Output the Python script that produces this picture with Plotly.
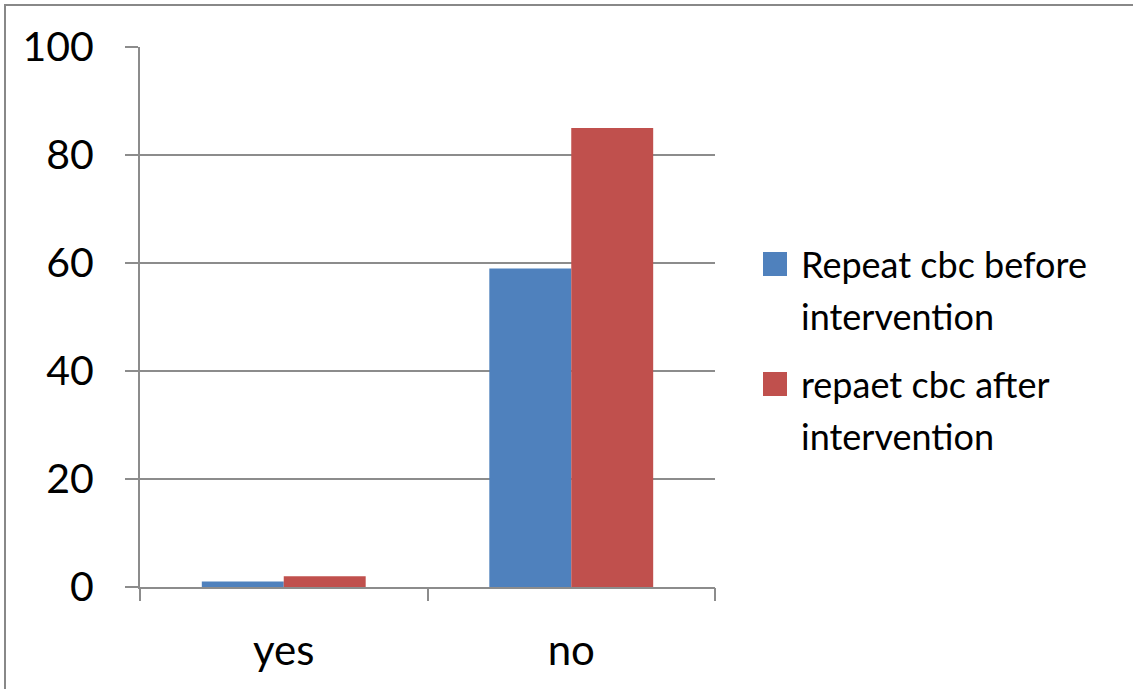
import plotly.graph_objects as go

categories = ["yes", "no"]
series_names = ["Repeat cbc before intervention", "repaet cbc after intervention"]
legend_lines = [["Repeat cbc before", "intervention"], ["repaet cbc after", "intervention"]]
before_values = [1, 59]
after_values = [2, 85]
y_ticks = [0, 20, 40, 60, 80, 100]
colors = ["#4F81BD", "#C0504D"]

W, H = 1133, 689
L, R, T, B = 140, 715, 47, 587
pw, ph = R - L, B - T

def px_x(px):
    return (px - L) / pw

def px_y(py):
    return (B - py) / ph

FONT = "Lato"
GRID = "#8C8C8C"

fig = go.Figure()
for name, vals, col in zip(series_names, [before_values, after_values], colors):
    fig.add_trace(go.Bar(x=categories, y=vals, name=name, marker_color=col,
                         marker_line_width=0, showlegend=False))

fig.update_layout(
    width=W, height=H,
    margin=dict(l=L, r=W - R, t=T, b=H - B, pad=0),
    paper_bgcolor="white", plot_bgcolor="white",
    barmode="group", bargap=0.43, bargroupgap=0,
    font=dict(family=FONT, color="black"),
    xaxis=dict(type="category", range=[-0.5, 1.5], showgrid=False, ticks="",
               showline=True, linecolor=GRID, linewidth=2,
               tickfont=dict(size=42, family=FONT), ticklabelstandoff=26, zeroline=False),
    xaxis2=dict(overlaying="x", range=[-0.5, 1.5], tickvals=[-0.5, 0.5, 1.5],
                showticklabels=False, ticks="outside", ticklen=13, tickwidth=2,
                tickcolor=GRID, showgrid=False, showline=False, zeroline=False),
    yaxis=dict(range=[0, 100], tickvals=y_ticks, showgrid=True, gridcolor=GRID,
               gridwidth=1.5, showline=True, linecolor=GRID, linewidth=2,
               ticks="outside", ticklen=13, tickwidth=2, tickcolor=GRID,
               tickfont=dict(size=41, family=FONT), ticklabelstandoff=23,
               zeroline=False),
)

# invisible trace so the secondary tick axis is drawn
fig.add_trace(go.Scatter(x=[-0.5, 1.5], y=[0, 0], xaxis="x2", mode="lines",
                         line=dict(width=0), hoverinfo="skip", showlegend=False))

shapes = [dict(type="rect", xref="paper", yref="paper",
               x0=px_x(5), y0=px_y(700), x1=px_x(1145), y1=px_y(5),
               line=dict(color="#888888", width=2), fillcolor="rgba(0,0,0,0)", layer="below")]
annotations = []
sq_centers = [264, 384]
line_ys = [[264, 316], [384, 436]]
for i, col in enumerate(colors):
    c = sq_centers[i]
    shapes.append(dict(type="rect", xref="paper", yref="paper",
                       x0=px_x(763), x1=px_x(787), y0=px_y(c + 12), y1=px_y(c - 12),
                       fillcolor=col, line=dict(width=0)))
    for txt, yy in zip(legend_lines[i], line_ys[i]):
        annotations.append(dict(xref="paper", yref="paper", x=px_x(799), y=px_y(yy),
                                xanchor="left", yanchor="middle", showarrow=False,
                                text=txt, font=dict(size=36, family=FONT, color="black")))
fig.update_layout(shapes=shapes, annotations=annotations)

fig.write_html("out.html")
